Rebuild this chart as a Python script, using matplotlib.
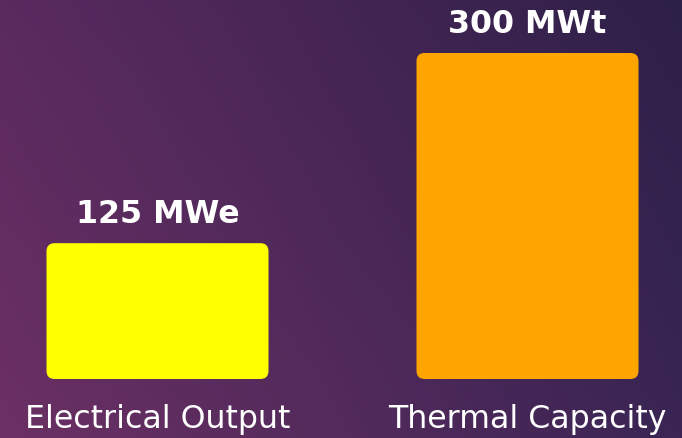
import numpy as np
import matplotlib
matplotlib.use("Agg")
from matplotlib import pyplot as plt
from matplotlib.patches import FancyBboxPatch

categories = ["Electrical Output", "Thermal Capacity"]
values = [125, 300]
value_labels = ["125 MWe", "300 MWt"]
bar_colors = ["#ffff00", "#ffa500"]

fig = plt.figure(figsize=(6.82, 4.39), dpi=100)

# background gradient (bottom-left pinkish purple -> top-right dark indigo)
bg = fig.add_axes([0, 0, 1, 1], zorder=-1)
tl = np.array([90, 42, 95]) / 255
tr = np.array([45, 32, 72]) / 255
bl = np.array([108, 48, 100]) / 255
br = np.array([58, 37, 84]) / 255
u = np.linspace(0, 1, 200)[None, :, None]
v = np.linspace(0, 1, 200)[:, None, None]
grad = (1 - v) * ((1 - u) * tl + u * tr) + v * ((1 - u) * bl + u * br)
bg.imshow(grad, aspect="auto", extent=[0, 1, 0, 1])
bg.axis("off")

ax = fig.add_axes([0, 59 / 439, 1, 326 / 439])
ax.patch.set_alpha(0)
x = np.arange(len(categories))
bars = ax.bar(x, values, width=0.6, color=bar_colors)
ax.set_xlim(-157.5 / 370, 1 + 154.5 / 370)
ax.set_ylim(0, 300)

# swap plain bars for rounded ones
aspect = (300 / 326) / (1 / 370)
for rect, c in zip(bars, bar_colors):
    rb = FancyBboxPatch((rect.get_x(), rect.get_y()), rect.get_width(), rect.get_height(),
                        boxstyle="round,pad=0,rounding_size=0.022",
                        mutation_aspect=aspect, facecolor=c, edgecolor="none")
    ax.add_patch(rb)
    rect.set_visible(False)

for xi, val, lab in zip(x, values, value_labels):
    ax.annotate(lab, (xi, val), xytext=(0, 21), textcoords="offset points",
                ha="center", va="center", color="white", fontsize=22.8,
                fontweight="bold", annotation_clip=False)

ax.set_xticks(x)
ax.set_xticklabels(categories, fontsize=22.8, color="white")
ax.tick_params(axis="x", length=0, pad=17.5)
ax.set_yticks([])
for s in ax.spines.values():
    s.set_visible(False)

fig.savefig("out.png", dpi=100)
